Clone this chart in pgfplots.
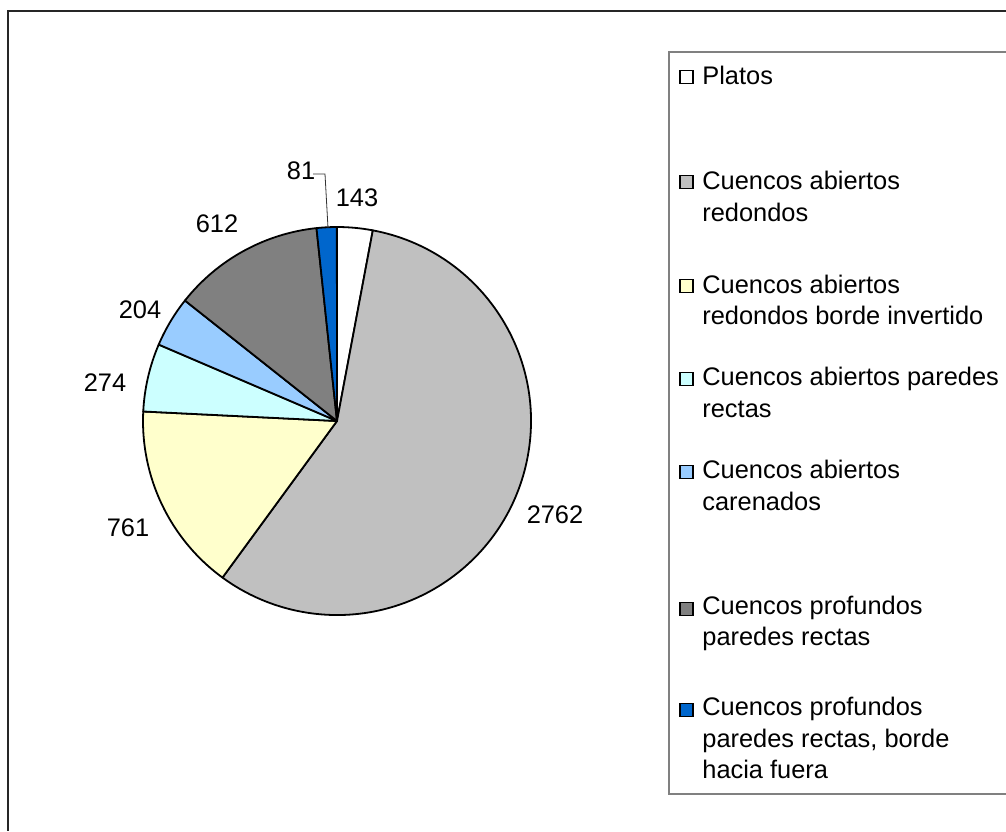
\documentclass[border=0pt]{standalone}
\usepackage{fontspec}
\setmainfont{Liberation Sans}
\usepackage{pgfplots}
\usepackage{pgfplotstable}
\pgfplotsset{compat=1.18}

% slice colours, in the order of the table
\definecolor{pc0}{RGB}{255,255,255}
\definecolor{pc1}{RGB}{192,192,192}
\definecolor{pc2}{RGB}{255,255,204}
\definecolor{pc3}{RGB}{204,255,255}
\definecolor{pc4}{RGB}{153,204,255}
\definecolor{pc5}{RGB}{128,128,128}
\definecolor{pc6}{RGB}{0,102,204}

% value, and where its label sits (pixels from the top left)
\pgfplotstableread{
n value lx ly
0 143  357 198
1 2762 555 515
2 761  128 528
3 274  105 383
4 204  140 310
5 612  217 224
6 81   301 171
}\piedata

\newcommand\txt{\fontsize{12.7pt}{15.8pt}\selectfont}

\begin{document}
\begin{tikzpicture}
% angles of the slices, clockwise from 12 o'clock
\def\total{0}
\pgfplotsforeachungrouped \i in {0,...,6}{%
  \pgfplotstablegetelem{\i}{value}\of\piedata
  \pgfmathsetmacro\total{\total+\pgfplotsretval}%
}
\pgfmathsetmacro\f{360/\total}
\def\cur{90}
\pgfplotsforeachungrouped \i in {0,...,6}{%
  \pgfplotstablegetelem{\i}{value}\of\piedata
  \let\val\pgfplotsretval
  \pgfmathsetmacro\nxt{\cur-\val*\f}%
  \expandafter\xdef\csname pa\i\endcsname{\cur}%
  \expandafter\xdef\csname pb\i\endcsname{\nxt}%
  \expandafter\xdef\csname pv\i\endcsname{\val}%
  \pgfplotstablegetelem{\i}{lx}\of\piedata
  \expandafter\xdef\csname px\i\endcsname{\pgfplotsretval}%
  \pgfplotstablegetelem{\i}{ly}\of\piedata
  \expandafter\xdef\csname py\i\endcsname{\pgfplotsretval}%
  \let\cur\nxt
}
\begin{axis}[
    hide axis,
    scale only axis,
    width=503pt, height=415.5pt,
    xmin=0, xmax=1006, ymin=0, ymax=831,
    y dir=reverse,
    clip=false,
]
% frames
\draw[line width=0.85pt, black!85] (axis cs:1006,11) -- (axis cs:8,11) -- (axis cs:8,831);
\draw[line width=0.8pt, black!50] (axis cs:1006,52) -- (axis cs:669,52) -- (axis cs:669,794) -- (axis cs:1006,794);

% slices
\pgfplotsinvokeforeach{0,...,6}{
  \filldraw[fill=pc#1, draw=black, line width=0.9pt, line join=round]
    (axis cs:337,421) -- ++(\csname pa#1\endcsname:97pt)
    arc[start angle=\csname pa#1\endcsname, end angle=\csname pb#1\endcsname, radius=97pt] -- cycle;
}
% value labels
\pgfplotsinvokeforeach{0,...,6}{
  \node[font=\txt, inner sep=0pt] at (axis cs:\csname px#1\endcsname,\csname py#1\endcsname) {\csname pv#1\endcsname};
}
\draw[line width=0.4pt, black!80] (axis cs:313,174) -- (axis cs:325,174) -- (axis cs:328,228);

% legend
\newcommand\legmark[2]{\filldraw[fill=pc#1, draw=black, line width=0.7pt] (axis cs:680,#2-6.5) rectangle (axis cs:693,#2+6.5);}
\legmark{0}{77}
\legmark{1}{182}
\legmark{2}{286}
\legmark{3}{379}
\legmark{4}{472}
\legmark{5}{609}
\legmark{6}{710}
\begin{scope}[every node/.style={font=\txt, anchor=west, align=left, inner sep=0pt}]
\node at (axis cs:702,75) {Platos};
\node at (axis cs:702,196.5) {Cuencos abiertos\\redondos};
\node at (axis cs:702,300) {Cuencos abiertos\\redondos borde invertido};
\node at (axis cs:702,392.5) {Cuencos abiertos paredes\\rectas};
\node at (axis cs:702,485.5) {Cuencos abiertos\\carenados};
\node at (axis cs:702,623.5) {Cuencos profundos\\paredes rectas};
\node at (axis cs:702,738) {Cuencos profundos\\paredes rectas, borde\\hacia fuera};
\end{scope}
\end{axis}
\pgfresetboundingbox
\useasboundingbox (0,0) rectangle (503pt,415.5pt);
\end{tikzpicture}
\end{document}
